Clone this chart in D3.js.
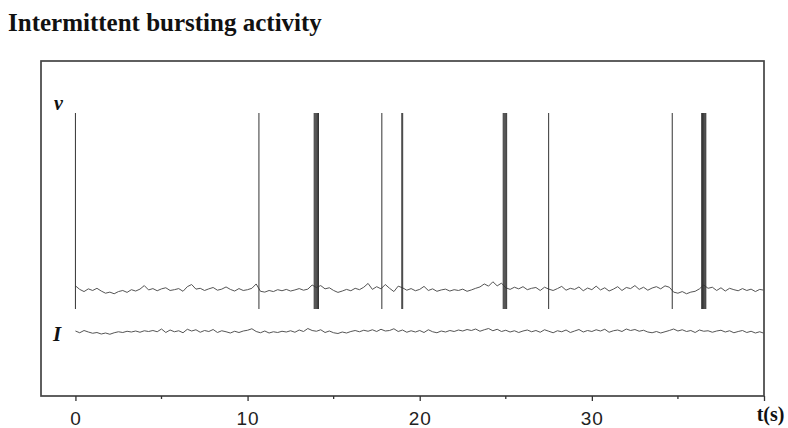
<!DOCTYPE html>
<html>
<head>
<meta charset="utf-8">
<script src="https://cdn.jsdelivr.net/npm/d3@7"></script>
<style>
    body { margin: 0; background: #fff; }
    svg { display: block; }
</style>
</head>
<body>
<div id="chart"></div>
<script>
const title = 'Intermittent bursting activity';
const majorTicks = [0, 10, 20, 30, 40];
const minorTicks = [5, 15, 25, 35];
const timeLabel = 't(s)';

const restV = -60;
const spikePeak = 5;
const spikeTrough = -67;

// spike times (s); close groups form the bursts
const spikeTimes = [
    0.0, 10.66,
    13.87, 13.92, 13.97, 14.02, 14.07, 14.12,
    17.8,
    18.96, 19.01,
    24.85, 24.9, 24.95, 25.0, 25.05,
    27.49,
    34.67,
    36.38, 36.43, 36.48, 36.53, 36.58, 36.62
];

// v trace, deviation from rest, sampled every 0.25 s from 0 to 40
const vNoise = [
    1.5, 0.2, -0.6, 0.4, -0.2, 0.6, -0.4, -1.2, -0.8, -1.4,
    -0.6, -0.2, -0.9, 0.1, -0.4, 0.3, 1.6, 0.0, 0.5, -0.3,
    0.4, 0.8, -0.2, 0.1, 0.5, -0.5, 1.2, 2.0, 0.3, 0.6,
    -0.2, 0.4, 0.9, -0.1, 0.3, 1.1, 0.2, -0.4, 0.5, -0.2,
    0.1, 0.6, 2.2, -0.5, -0.8, -0.2, -0.6, 0.1, -0.3, 0.2,
    -0.4, 0.0, 0.5, -0.1, 0.3, 1.8, 0.9, 1.6, 0.4, 0.8,
    -0.2, -0.9, -0.4, 0.2, -0.3, 0.6, 0.1, 1.0, 2.4, 0.2,
    1.2, 0.4, 2.0, 0.6, -0.6, 1.4, 0.8, -0.1, 0.5, -0.3,
    0.2, 1.3, -0.2, 0.4, -0.5, 0.0, 0.3, -0.4, 0.1, -0.2,
    0.3, -0.5, 0.0, 0.6, 1.1, 2.2, 1.4, 3.0, 1.5, 2.5,
    0.8, 0.2, 1.0, 0.4, 1.2, 0.1, 0.6, 0.9, -0.2, 1.0,
    0.3, -0.2, 0.5, 1.3, -0.1, 0.6, 0.2, 1.1, -0.3, 0.7,
    0.1, 1.4, 0.0, 0.8, -0.4, 0.3, 1.2, -0.2, 0.9, 0.5,
    1.6, 0.2, 1.0, -0.1, 0.7, 1.2, 0.4, 1.5, 1.0, -0.8,
    -1.2, -0.6, -1.4, -0.8, -0.5, 0.4, 1.8, 0.6, 1.0, -0.2,
    0.8, -0.4, 0.6, 0.1, -0.3, 0.5, -0.2, 0.3, -0.6, 0.2,
    -0.1
];

// I trace, same sampling
const iNoise = [
    0.4, -0.3, 0.6, 0.0, -0.5, -0.2, -0.8, -0.4, -0.9, -0.3,
    0.1, -0.2, 0.3, 0.0, 0.4, -0.1, 0.5, 0.2, 0.6, 0.1,
    1.2, -0.2, 0.8, 0.1, 0.5, -0.3, 1.1, 0.4, 0.9, -0.1,
    0.6, 0.2, 1.0, -0.2, 0.5, 0.1, -0.4, 0.3, -0.2, 0.4,
    0.7, 1.3, 0.2, -0.3, 0.4, -0.4, 0.1, -0.2, 0.3, 0.0,
    0.5, -0.1, 0.8, 0.2, 1.4, 0.6, 0.3, 0.9, -0.2, 0.4,
    -0.3, -0.6, 0.0, -0.4, 0.2, 0.6, 0.1, 0.7, 0.3, 0.9,
    0.2, 1.1, 0.4, 0.6, 1.3, 0.2, 0.8, -0.1, 0.5, 0.0,
    0.6, -0.2, 0.9, 0.1, -0.3, 0.4, 0.0, 0.6, 0.2, 0.8,
    0.4, 1.0, 0.6, 1.2, 0.3, 0.9, 1.4, 0.5, 1.1, 0.2,
    0.7, 0.0, 0.5, -0.2, 0.4, 0.8, 0.1, 0.6, -0.1, 0.9,
    0.3, -0.3, 0.5, 0.1, 0.8, -0.2, 0.4, 1.0, 0.0, 0.6,
    0.2, 0.9, 0.4, 1.1, -0.1, 0.5, 0.8, 0.2, 1.2, 0.6,
    1.0, 0.3, 0.7, 0.0, -0.3, 0.2, -0.4, 0.1, 0.6, 1.2,
    0.4, 0.9, 0.2, 0.6, -0.2, 0.8, 0.3, 0.5, -0.1, 0.4,
    0.7, 0.0, 0.5, -0.3, 0.2, 0.6, -0.2, 0.3, -0.4, 0.1,
    -0.5
];

const width = 788;
const height = 428;
const sampleStep = 0.25;

const svg = d3.select('#chart').append('svg')
    .attr('width', width)
    .attr('height', height);

const x = d3.scaleLinear().domain([-2, 40]).range([41, 764]);
const yV = d3.scaleLinear().domain([spikeTrough, spikePeak]).range([309, 113]);
const yI = d3.scaleLinear().domain([-6, 6]).range([347, 317]);
const frameTop = 61;
const frameBottom = 396;

svg.append('text')
    .attr('x', 8)
    .attr('y', 31)
    .attr('font-family', 'Liberation Serif, Times New Roman, serif')
    .attr('font-weight', 'bold')
    .attr('font-size', 25)
    .attr('fill', '#111')
    .text(title);

svg.append('rect')
    .attr('x', x(-2))
    .attr('y', frameTop)
    .attr('width', x(40) - x(-2))
    .attr('height', frameBottom - frameTop)
    .attr('fill', 'none')
    .attr('stroke', '#444')
    .attr('stroke-width', 1.7);

const xAxis = svg.append('g')
    .attr('transform', `translate(0,${frameBottom})`)
    .call(d3.axisBottom(x)
        .tickValues(majorTicks)
        .tickSize(5)
        .tickSizeOuter(0)
        .tickPadding(11)
        .tickFormat(d => d === 40 ? timeLabel : d));

xAxis.select('.domain').remove();
xAxis.selectAll('.tick line').attr('stroke', '#333').attr('stroke-width', 1.3);
xAxis.selectAll('.tick text')
    .attr('font-family', 'Liberation Sans, Arial, sans-serif')
    .attr('font-size', 19)
    .attr('letter-spacing', 1)
    .attr('fill', '#222');
xAxis.selectAll('.tick text')
    .filter(d => d === 40)
    .attr('x', 6)
    .attr('y', 11)
    .attr('letter-spacing', 0)
    .attr('font-family', 'Liberation Serif, Times New Roman, serif')
    .attr('font-weight', 'bold')
    .attr('font-size', 20)
    .attr('fill', '#111');

svg.append('g')
    .selectAll('line')
    .data(minorTicks)
    .enter().append('line')
    .attr('x1', d => x(d))
    .attr('x2', d => x(d))
    .attr('y1', frameBottom)
    .attr('y2', frameBottom + 3)
    .attr('stroke', '#333')
    .attr('stroke-width', 1.3);

const vLine = d3.line()
    .x((d, i) => x(i * sampleStep))
    .y(d => yV(restV + d));

const iLine = d3.line()
    .x((d, i) => x(i * sampleStep))
    .y(d => yI(d));

svg.append('path')
    .datum(vNoise)
    .attr('d', vLine)
    .attr('fill', 'none')
    .attr('stroke', '#555')
    .attr('stroke-width', 1);

svg.append('path')
    .datum(iNoise)
    .attr('d', iLine)
    .attr('fill', 'none')
    .attr('stroke', '#555')
    .attr('stroke-width', 1);

svg.append('g')
    .selectAll('line')
    .data(spikeTimes)
    .enter().append('line')
    .attr('x1', d => x(d))
    .attr('x2', d => x(d))
    .attr('y1', yV(spikePeak))
    .attr('y2', yV(spikeTrough))
    .attr('stroke', '#333')
    .attr('stroke-width', 1);

svg.append('text')
    .attr('x', 54)
    .attr('y', 110)
    .attr('font-family', 'Liberation Serif, Times New Roman, serif')
    .attr('font-weight', 'bold')
    .attr('font-style', 'italic')
    .attr('font-size', 20)
    .attr('fill', '#111')
    .text('v');

svg.append('text')
    .attr('x', 53)
    .attr('y', 341)
    .attr('font-family', 'Liberation Serif, Times New Roman, serif')
    .attr('font-weight', 'bold')
    .attr('font-style', 'italic')
    .attr('font-size', 21)
    .attr('fill', '#111')
    .text('I');
</script>
</body>
</html>
